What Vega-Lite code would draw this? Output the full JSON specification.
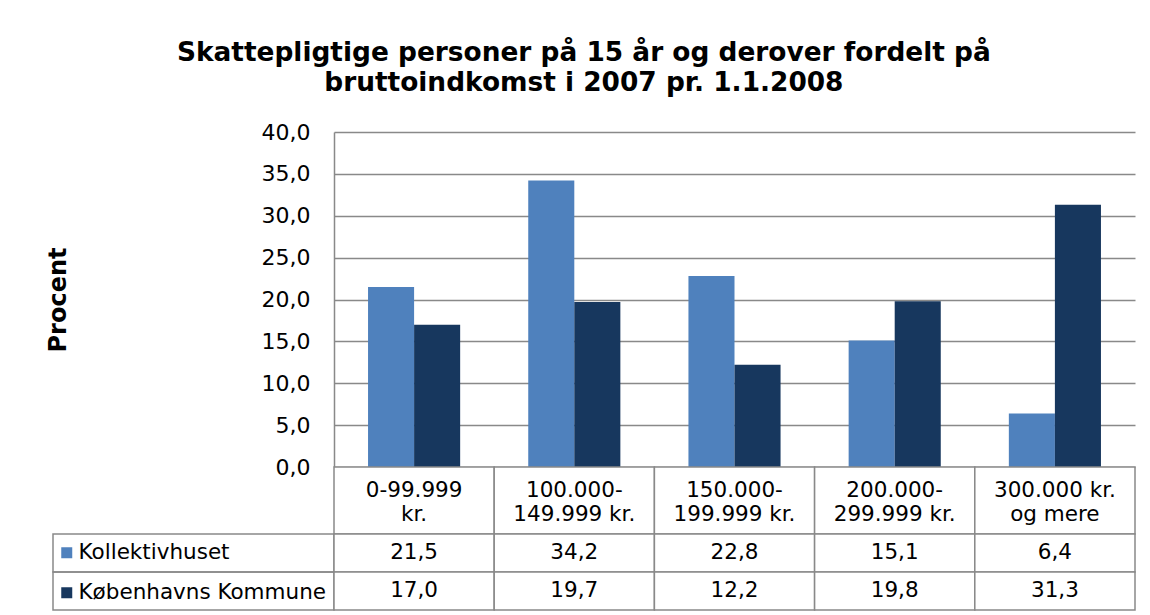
{
  "$schema": "https://vega.github.io/schema/vega-lite/v6.json",
  "padding": {"left": 46, "top": 39, "right": 15, "bottom": 4},
  "background": "white",
  "config": {
    "font": "DejaVu Sans",
    "view": {"stroke": null},
    "locale": {"number": {"decimal": ",", "thousands": ".", "grouping": [3], "currency": ["", " kr."]}}
  },
  "title": {
    "text": ["Skattepligtige personer på 15 år og derover fordelt på", "bruttoindkomst i 2007 pr. 1.1.2008"],
    "font": "DejaVu Sans", "fontSize": 26.4, "fontWeight": "bold", "lineHeight": 30,
    "anchor": "middle", "offset": 25, "dx": -7, "color": "black"
  },
  "data": {"values": [
    {"cat": "0-99.999\nkr.", "series": "Kollektivhuset", "value": 21.5},
    {"cat": "100.000-\n149.999 kr.", "series": "Kollektivhuset", "value": 34.2},
    {"cat": "150.000-\n199.999 kr.", "series": "Kollektivhuset", "value": 22.8},
    {"cat": "200.000-\n299.999 kr.", "series": "Kollektivhuset", "value": 15.1},
    {"cat": "300.000 kr.\nog mere", "series": "Kollektivhuset", "value": 6.4},
    {"cat": "0-99.999\nkr.", "series": "Københavns Kommune", "value": 17.0},
    {"cat": "100.000-\n149.999 kr.", "series": "Københavns Kommune", "value": 19.7},
    {"cat": "150.000-\n199.999 kr.", "series": "Københavns Kommune", "value": 12.2},
    {"cat": "200.000-\n299.999 kr.", "series": "Københavns Kommune", "value": 19.8},
    {"cat": "300.000 kr.\nog mere", "series": "Københavns Kommune", "value": 31.3}
  ]},
  "columns": 2,
  "spacing": 0,
  "bounds": "flush",
  "resolve": {"scale": {"color": "independent"}, "legend": {"color": "independent"}},
  "concat": [
    {
      "width": 281, "height": 335,
      "mark": {"type": "rect", "opacity": 0},
      "encoding": {}
    },
    {
      "width": 801,
      "height": 335,
      "mark": {"type": "bar"},
      "encoding": {
        "x": {
          "field": "cat", "type": "nominal",
          "scale": {"domain": ["0-99.999\nkr.", "100.000-\n149.999 kr.", "150.000-\n199.999 kr.", "200.000-\n299.999 kr.", "300.000 kr.\nog mere"], "paddingInner": 0.425, "paddingOuter": 0.2125},
          "axis": null
        },
        "xOffset": {"field": "series", "type": "nominal", "scale": {"domain": ["Kollektivhuset", "Københavns Kommune"], "paddingInner": 0, "paddingOuter": 0}},
        "y": {
          "field": "value", "type": "quantitative",
          "scale": {"domain": [0, 40], "nice": false},
          "axis": {
            "values": [0, 5, 10, 15, 20, 25, 30, 35, 40], "format": ".1f",
            "title": "Procent", "titleFontSize": 24, "titleFontWeight": "bold", "titleColor": "black", "titlePadding": 13,
            "minExtent": 251, "maxExtent": 251,
            "labelFontSize": 22, "labelColor": "black", "labelPadding": 24, "ticks": false,
            "grid": true, "gridColor": "#898989", "gridWidth": 1.5,
            "domainColor": "#898989", "domainWidth": 1.5
          }
        },
        "color": {
          "field": "series", "type": "nominal",
          "scale": {"domain": ["Kollektivhuset", "Københavns Kommune"], "range": ["#4F81BD", "#17375E"]},
          "legend": {
            "title": null, "orient": "none", "legendX": -278, "legendY": 410, "direction": "vertical",
            "symbolType": "square", "symbolSize": 121, "symbolStrokeWidth": 0,
            "labelFontSize": 21.5, "labelColor": "black", "labelOffset": 1, "rowPadding": 17, "padding": 0, "labelLimit": 300
          }
        }
      }
    },
    {
      "width": 281, "height": 67,
      "mark": {"type": "rect", "opacity": 0},
      "encoding": {}
    },
    {
      "width": 801, "height": 67,
      "transform": [{"filter": {"field": "series", "equal": "Kollektivhuset"}}],
      "layer": [
        {
          "mark": {"type": "rect", "fill": "white", "stroke": "#898989", "strokeWidth": 1.5},
          "encoding": {
            "x": {"field": "cat", "type": "nominal", "scale": {"domain": ["0-99.999\nkr.", "100.000-\n149.999 kr.", "150.000-\n199.999 kr.", "200.000-\n299.999 kr.", "300.000 kr.\nog mere"], "paddingInner": 0, "paddingOuter": 0}, "axis": null}
          }
        },
        {
          "mark": {"type": "text", "fontSize": 21.5, "lineBreak": "\n", "lineHeight": 24, "dy": -10, "color": "black"},
          "encoding": {
            "x": {"field": "cat", "type": "nominal", "axis": null},
            "text": {"field": "cat", "type": "nominal"}
          }
        }
      ]
    },
    {
      "width": 281, "height": 76,
      "transform": [{"filter": {"field": "cat", "equal": "0-99.999\nkr."}}],
      "mark": {"type": "rect", "fill": "white", "fillOpacity": 0, "stroke": "#898989", "strokeWidth": 1.5},
      "encoding": {
        "y": {"field": "series", "type": "nominal", "scale": {"domain": ["Kollektivhuset", "Københavns Kommune"], "paddingInner": 0, "paddingOuter": 0}, "axis": null}
      }
    },
    {
      "width": 801, "height": 76,
      "layer": [
        {
          "mark": {"type": "rect", "fill": "white", "stroke": "#898989", "strokeWidth": 1.5},
          "encoding": {
            "x": {"field": "cat", "type": "nominal", "scale": {"domain": ["0-99.999\nkr.", "100.000-\n149.999 kr.", "150.000-\n199.999 kr.", "200.000-\n299.999 kr.", "300.000 kr.\nog mere"], "paddingInner": 0, "paddingOuter": 0}, "axis": null},
            "y": {"field": "series", "type": "nominal", "scale": {"domain": ["Kollektivhuset", "Københavns Kommune"], "paddingInner": 0, "paddingOuter": 0}, "axis": null}
          }
        },
        {
          "mark": {"type": "text", "fontSize": 21.5, "color": "black"},
          "encoding": {
            "x": {"field": "cat", "type": "nominal", "axis": null},
            "y": {"field": "series", "type": "nominal", "axis": null},
            "text": {"field": "value", "type": "quantitative", "format": ".1f"}
          }
        }
      ]
    }
  ]
}
